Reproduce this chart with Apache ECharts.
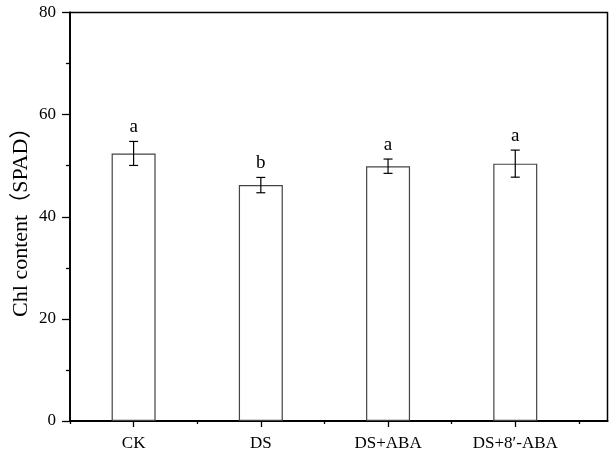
<!DOCTYPE html>
<html>
<head>
<meta charset="utf-8">
<script src="https://cdn.jsdelivr.net/npm/echarts@6/dist/echarts.min.js"></script>
<style>
  html, body { margin: 0; padding: 0; background: #fff; }
  #chart { width: 611px; height: 453px; }
</style>
</head>
<body>
<div id="chart"></div>
<script>
// Chlorophyll content (SPAD) by treatment, mean ± error, with significance letters
const categories = ['CK', 'DS', 'DS+ABA', 'DS+8\u2032-ABA'];
const means = [52.4, 46.2, 49.9, 50.4];
const errors = [2.35, 1.5, 1.4, 2.65];
const letters = ['a', 'b', 'a', 'a'];
const yTicks = [0, 20, 40, 60, 80];

const FONT = "'Liberation Serif', 'Times New Roman', 'Noto Sans CJK SC', serif";

// categories sit at x = 1..n on a numeric axis
const positions = categories.map((_, i) => i + 1);
const barData = positions.map((x, i) => [x, means[i]]);
const errData = positions.map((x, i) => [x, means[i], errors[i], i]);

const chart = echarts.init(document.getElementById('chart'), null, { renderer: 'canvas' });

chart.setOption({
  animation: false,
  backgroundColor: '#fff',
  grid: {
    left: 70, right: 3.5, top: 12.5, bottom: 32,
    containLabel: false, outerBoundsMode: 'none',
    show: true, borderColor: '#000', borderWidth: 1.5, backgroundColor: 'transparent'
  },
  xAxis: [
    {
      type: 'value', min: 0.5, max: 4.725,
      axisLine: { show: true, onZero: false, lineStyle: { color: '#000', width: 2 } },
      axisTick: { show: true, customValues: positions, length: 6, lineStyle: { color: '#000', width: 1.3 } },
      axisLabel: {
        show: true, customValues: positions, margin: 14,
        formatter: v => categories[Math.round(v) - 1] || '',
        color: '#000', fontFamily: FONT, fontSize: 17
      },
      splitLine: { show: false }
    },
    {
      type: 'value', min: 0.5, max: 4.725, position: 'bottom',
      axisLine: { show: false },
      axisTick: { show: true, customValues: [0.5, 1.5, 2.5, 3.5, 4.5], length: 3, lineStyle: { color: '#000', width: 1.3 } },
      axisLabel: { show: false },
      splitLine: { show: false }
    }
  ],
  yAxis: {
    type: 'value', min: yTicks[0], max: yTicks[yTicks.length - 1], interval: 20,
    name: 'Chl content\uFF08SPAD\uFF09',
    nameLocation: 'middle', nameGap: 38, nameMoveOverlap: false,
    nameTextStyle: { color: '#000', fontFamily: FONT, fontSize: 22 },
    axisLine: { show: true, lineStyle: { color: '#000', width: 1.8 } },
    axisTick: { show: true, length: 8, lineStyle: { color: '#000', width: 1.3 } },
    minorTick: { show: true, splitNumber: 2, length: 4, lineStyle: { color: '#000', width: 1.3 } },
    axisLabel: { color: '#000', fontFamily: FONT, fontSize: 17, margin: 14 },
    splitLine: { show: false }
  },
  series: [
    {
      type: 'bar',
      xAxisIndex: 0,
      barWidth: 44,
      data: barData,
      itemStyle: { color: '#fff', borderColor: '#444', borderWidth: 1.2 },
      z: 2
    },
    {
      type: 'custom',
      xAxisIndex: 0,
      data: errData,
      z: 3,
      renderItem: function (params, api) {
        const x = api.value(0), m = api.value(1), e = api.value(2), idx = api.value(3);
        const top = api.coord([x, m + e]);
        const bot = api.coord([x, m - e]);
        const hw = 4.5;
        const style = { stroke: '#000', lineWidth: 1.2 };
        return {
          type: 'group',
          children: [
            { type: 'line', shape: { x1: top[0], y1: top[1], x2: bot[0], y2: bot[1] }, style },
            { type: 'line', shape: { x1: top[0] - hw, y1: top[1], x2: top[0] + hw, y2: top[1] }, style },
            { type: 'line', shape: { x1: bot[0] - hw, y1: bot[1], x2: bot[0] + hw, y2: bot[1] }, style },
            {
              type: 'text',
              style: {
                x: top[0], y: top[1] - 5,
                text: letters[idx],
                fill: '#000', font: '19px ' + FONT,
                align: 'center', verticalAlign: 'bottom'
              }
            }
          ]
        };
      }
    }
  ]
});
</script>
</body>
</html>
